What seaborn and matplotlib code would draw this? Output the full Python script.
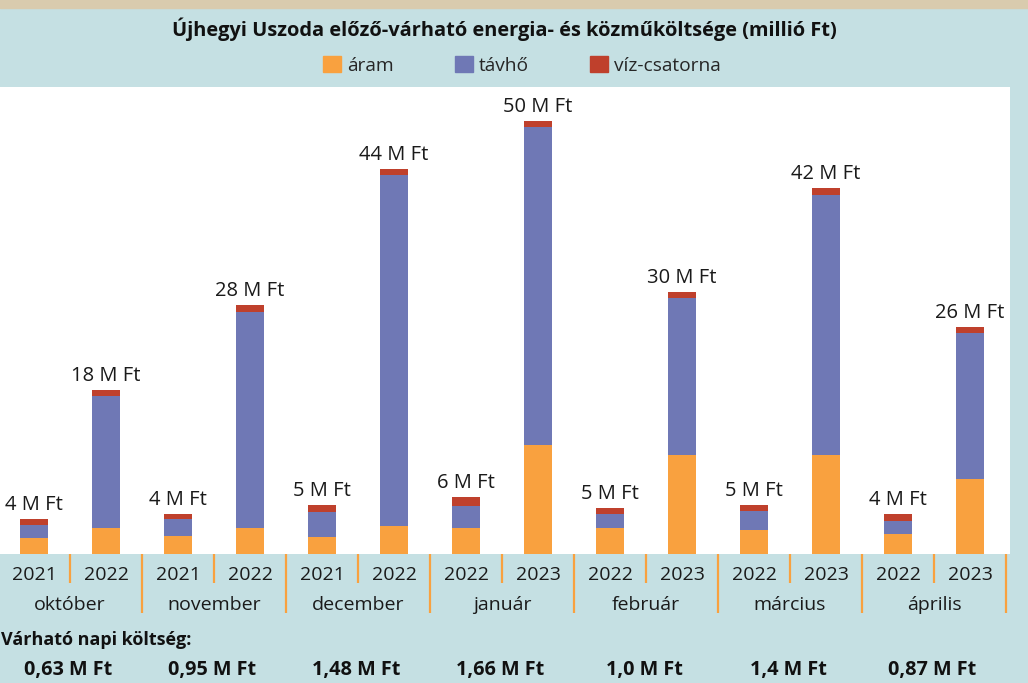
import numpy as np
import pandas as pd
import matplotlib.pyplot as plt
import seaborn as sns
from matplotlib.patches import Patch, Rectangle

sns.set_style("white")
plt.rcParams['font.family'] = ['Open Sans', 'DejaVu Sans']

# data (millió Ft)
months = ["október", "november", "december", "január", "február", "március", "április"]
years = ["2021", "2022", "2021", "2022", "2021", "2022", "2022", "2023",
         "2022", "2023", "2022", "2023", "2022", "2023"]
aram = [1.8, 3.0, 2.1, 3.0, 2.0, 3.2, 3.0, 12.6, 3.0, 11.4, 2.8, 11.4, 2.3, 8.7]
tavho = [1.6, 15.2, 1.9, 25.0, 2.9, 40.6, 2.6, 36.7, 1.6, 18.2, 2.2, 30.1, 1.5, 16.8]
viz = [0.6, 0.7, 0.6, 0.7, 0.8, 0.7, 1.0, 0.7, 0.7, 0.7, 0.7, 0.8, 0.8, 0.7]
bar_labels = ["4 M Ft", "18 M Ft", "4 M Ft", "28 M Ft", "5 M Ft", "44 M Ft", "6 M Ft",
              "50 M Ft", "5 M Ft", "30 M Ft", "5 M Ft", "42 M Ft", "4 M Ft", "26 M Ft"]
napi = ["0,63 M Ft", "0,95 M Ft", "1,48 M Ft", "1,66 M Ft", "1,0 M Ft", "1,4 M Ft", "0,87 M Ft"]

c_aram = '#F9A13F'
c_tavho = '#6F78B5'
c_viz = '#BF402C'
teal = '#C5E0E3'

keys = [f"{months[i // 2]} {years[i]}" for i in range(len(years))]
df = pd.DataFrame({"key": keys, "aram": aram, "tavho": tavho, "viz": viz})
df["s_tavho"] = df["aram"] + df["tavho"]
df["s_viz"] = df["s_tavho"] + df["viz"]

W, H = 1028, 683
fig = plt.figure(figsize=(W / 100, H / 100), dpi=100)
fig.patch.set_facecolor(teal)
# photo strip at the very top
fig.add_artist(Rectangle((0, 1 - 8 / H), 1, 8 / H, transform=fig.transFigure,
                         color='#D9CBAE', zorder=0))

ax = fig.add_axes([0, 1 - 554 / H, 1010 / W, 467 / H])
ax.set_facecolor('white')

for col, c in [("s_viz", c_viz), ("s_tavho", c_tavho), ("aram", c_aram)]:
    sns.barplot(data=df, x="key", y=col, color=c, width=0.4, saturation=1,
                errorbar=None, linewidth=0, ax=ax)

ax.set_xlim(-0.5 + 2 / 72, -0.5 + 1012 / 72)
ax.set_ylim(0, 467 / 8.66)
ax.set_xticks([])
ax.set_yticks([])
ax.set_xlabel('')
ax.set_ylabel('')
for s in ax.spines.values():
    s.set_visible(False)

for i, (lab, tot) in enumerate(zip(bar_labels, df["s_viz"])):
    ax.annotate(lab, (i, tot), xytext=(0, 6.5), textcoords='offset points',
                ha='center', va='baseline', fontsize=14.5, color='#1a1a1a')

tr = ax.get_xaxis_transform()
for i, y in enumerate(years):
    ax.text(i, -26 / 467, y, transform=tr, ha='center', va='baseline',
            fontsize=14, color='#1a1a1a')
for k, m in enumerate(months):
    ax.text(2 * k + 0.5, -56 / 467, m, transform=tr, ha='center', va='baseline',
            fontsize=14, color='#1a1a1a')
for i in range(len(years)):
    xb = i + 0.5
    low = -59 / 467 if i % 2 == 1 else -29 / 467
    ax.plot([xb, xb], [0, low], transform=tr, color=c_aram, lw=1.6,
            clip_on=False, solid_capstyle='butt')

fig.text(504 / W, 1 - 36 / H,
         "Újhegyi Uszoda előző-várható energia- és közműköltsége (millió Ft)",
         ha='center', va='baseline', fontsize=14.4, fontweight='bold', color='#111111')

handles = [Patch(color=c_aram, label='áram'), Patch(color=c_tavho, label='távhő'),
           Patch(color=c_viz, label='víz-csatorna')]
fig.legend(handles=handles, loc='center', bbox_to_anchor=(522 / W, 1 - 65.5 / H),
           ncol=3, frameon=False, fontsize=13.8, handlelength=0.95, handleheight=0.85,
           handletextpad=0.3, columnspacing=3.2, borderaxespad=0)

fig.text(1 / W, 1 - 645 / H, "Várható napi költség:", ha='left', va='baseline',
         fontsize=13, fontweight='bold', color='#111111')
for k, v in enumerate(napi):
    fig.text((68 + 144 * k) / W, 1 - 675 / H, v, ha='center', va='baseline',
             fontsize=14.3, fontweight='bold', color='#111111')

fig.savefig('out.png', dpi=100, facecolor=fig.get_facecolor())
